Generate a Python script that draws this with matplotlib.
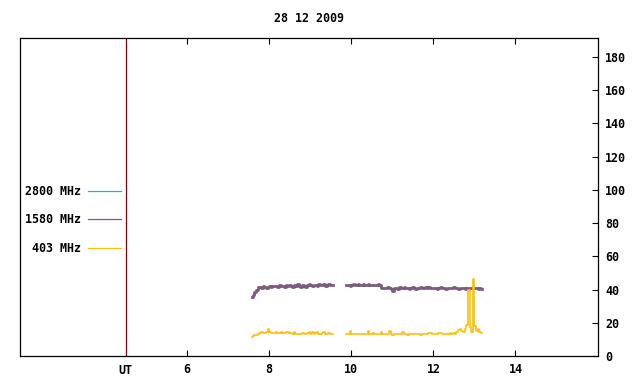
import numpy as np
import matplotlib
matplotlib.use("Agg")
import matplotlib.pyplot as plt
from matplotlib.lines import Line2D

# radio flux, 28 12 2009 -- samples every 0.04 h starting 7.58 UT
title = "28 12 2009"
t_start = 7.58
t_step = 0.04

labels = ["2800 MHz", "1580 MHz", " 403 MHz"]
colors = ["#10b8c4", "#7b5c7e", "#ffbf10"]

flux_2800 = []  # no data this day

flux_1580 = [
    35.5, 37.0, 38.5, 40.0, 41.5, 41.8, 41.2, 42.0, 41.5, 40.8,
    41.6, 42.2, 41.7, 41.9, 42.4, 42.1, 41.6, 42.5, 42.0, 42.3,
    41.4, 42.6, 42.2, 43.0, 42.0, 41.3, 42.5, 42.2, 43.1, 42.3,
    41.8, 42.7, 42.4, 41.5, 42.6, 43.2, 42.5, 42.1, 43.0, 42.8,
    42.2, 43.4, 42.6, 42.9, 43.5, 42.4, 42.8, 43.1, 42.5, 42.7,
    np.nan, np.nan, np.nan, np.nan, np.nan, np.nan, np.nan, np.nan,
    42.6, 43.0, 42.3, 42.9, 43.2, 42.5, 42.8, 43.4, 42.7, 42.9,
    43.1, 42.6, 42.8, 43.3, 42.7, 42.9, 42.5, 43.0, 42.8, 43.1,
    42.6, 41.0, 40.7, 41.2, 40.9, 41.5, 41.0, 40.6, 39.4, 40.8,
    41.1, 40.5, 41.3, 40.9, 41.0, 41.6, 40.8, 41.2, 40.6, 41.0,
    41.3, 40.7, 40.2, 41.1, 40.8, 41.4, 41.0, 41.2, 41.6, 40.9,
    41.3, 41.0, 40.7, 41.2, 40.9, 40.4, 41.0, 41.3, 40.8, 41.1,
    40.6, 41.0, 41.2, 40.7, 40.9, 41.3, 40.8, 41.0, 40.6, 41.1,
    40.8, 41.0, 40.5, 41.2, 40.9, 41.1, 40.7, 41.0, 40.8, 41.2,
    40.6, 40.9, 40.5,
]

flux_403 = [
    11.6, 11.8, 12.6, 12.6, 13.5, 14.0, 14.2, 14.0, 14.1, 14.3,
    16.0, 14.2, 14.0, 14.1, 14.0, 14.2, 14.1, 14.0, 14.3, 14.1,
    14.0, 14.6, 14.2, 14.1, 13.6, 13.4, 14.2, 13.5, 13.2, 13.5,
    13.4, 13.6, 13.5, 13.4, 13.6, 14.7, 13.5, 14.3, 13.4, 13.6,
    14.6, 13.5, 13.4, 13.6, 14.2, 13.5, 13.4, 13.6, 13.0, 13.2,
    np.nan, np.nan, np.nan, np.nan, np.nan, np.nan, np.nan, np.nan,
    13.4, 13.5, 15.0, 13.4, 13.3, 13.0, 13.1, 13.4, 13.2, 13.0,
    13.3, 13.2, 13.4, 14.8, 13.2, 13.3, 13.9, 13.1, 13.0, 13.2,
    13.3, 14.5, 13.2, 13.4, 13.1, 13.3, 15.0, 13.2, 12.9, 13.1,
    13.3, 13.2, 13.0, 13.3, 14.2, 13.2, 13.1, 12.9, 13.2, 13.4,
    13.1, 13.0, 13.2, 13.5, 13.3, 12.8, 13.4, 13.2, 13.1, 13.3,
    13.9, 13.6, 13.2, 13.4, 13.1, 13.3, 14.1, 14.0, 13.4, 13.1,
    13.3, 13.5, 13.2, 13.6, 13.4, 13.8, 13.5, 14.6, 15.8, 16.5,
    15.0, 14.2, 16.0, 18.8, 40.0, 17.5, 14.4, 46.3, 18.0, 14.8,
    16.5, 14.3, 14.0,
]

xticks = [6, 8, 10, 12, 14]
yticks = [0, 20, 40, 60, 80, 100, 120, 140, 160, 180]
ut_pos = 4.5

plt.rcParams['font.family'] = ['DejaVu Sans Mono']
plt.rcParams['font.weight'] = 'bold'
fs = 8.4

fig = plt.figure(figsize=(6.4, 3.84), dpi=100)
ax = fig.add_axes([20/640, 1 - 356/384, 578/640, 318/384])

t = t_start + t_step * np.arange(len(flux_1580))
ax.plot(t[:len(flux_2800)], flux_2800, color=colors[0], lw=0.8)
ax.plot(t, flux_1580, color=colors[1], lw=2.0, drawstyle='steps-mid')
ax.plot(t, flux_403, color=colors[2], lw=1.2, drawstyle='steps-mid')

ax.axvline(ut_pos, color='#800000', lw=0.9)

ax.set_xlim(1.93, 16.01)
ax.set_ylim(0, 191.4)

ax.set_xticks(xticks)
ax.set_xticklabels([str(v) for v in xticks], fontsize=fs, fontweight='bold')
ax.yaxis.tick_right()
ax.set_yticks(yticks)
ax.set_yticklabels([str(v) for v in yticks], fontsize=fs, fontweight='bold')
ax.tick_params(axis='x', direction='in', length=4, width=0.8, top=True, pad=5)
ax.tick_params(axis='y', direction='in', length=4, width=0.8, left=False, right=True, pad=5)
for s in ax.spines.values():
    s.set_linewidth(0.9)

ax.text(ut_pos, -0.024, "UT", transform=ax.get_xaxis_transform(),
        ha='center', va='top', fontsize=fs, fontweight='bold')

fig.text(309/640, 1 - 19/384, title, ha='center', va='center', fontsize=fs, fontweight='bold')

# key on the left
rows_y = [191.3, 219.3, 248.3]
for lab, col, ry in zip(labels, colors, rows_y):
    yf = 1 - ry/384
    fig.text(81/640, yf, lab, ha='right', va='center', fontsize=fs, fontweight='bold')
    fig.add_artist(Line2D([88/640, 121/640], [yf, yf], color=col, lw=0.9))

fig.savefig("out.png", dpi=100)
